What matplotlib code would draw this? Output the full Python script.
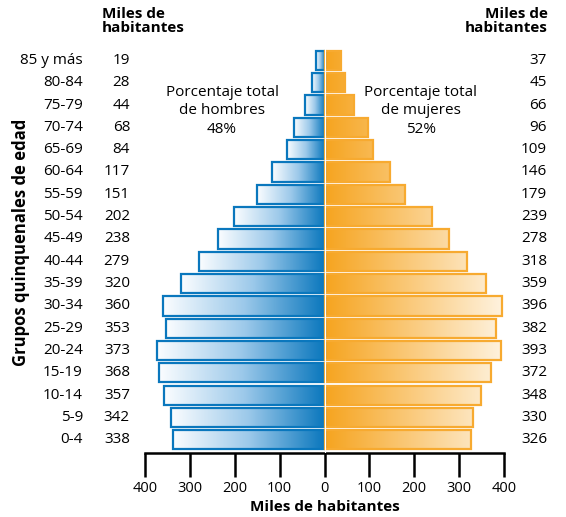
import matplotlib.pyplot as plt
import numpy as np
from matplotlib.colors import LinearSegmentedColormap, to_rgb
from matplotlib.patches import Rectangle

plt.rcParams['font.family'] = ['Open Sans', 'DejaVu Sans']

# Data (thousands of inhabitants), from youngest to oldest
ages = ['0-4', '5-9', '10-14', '15-19', '20-24', '25-29', '30-34', '35-39',
        '40-44', '45-49', '50-54', '55-59', '60-64', '65-69', '70-74',
        '75-79', '80-84', '85 y más']
men = [338, 342, 357, 368, 373, 353, 360, 320, 279, 238, 202, 151, 117,
       84, 68, 44, 28, 19]
women = [326, 330, 348, 372, 393, 382, 396, 359, 318, 278, 239, 179, 146,
         109, 96, 66, 45, 37]
ticks = [-400, -300, -200, -100, 0, 100, 200, 300, 400]

blue = '#0a77bd'
orange = '#f6a41f'
h = 0.86

fig = plt.figure(figsize=(5.66, 5.17), dpi=100)
ax = fig.add_axes([145 / 566, 1 - 453 / 517, 359 / 566, 406 / 517])
ax.set_xlim(-400, 400)
n = len(ages)
ax.set_ylim(-0.59, n - 1 + 0.6)

blue_cmap = LinearSegmentedColormap.from_list('b', ['#fbfdff', '#9cc9ea', blue])
grad = np.linspace(0, 1, 256).reshape(1, -1)

ob = np.array(to_rgb(orange))
for i, (m, w) in enumerate(zip(men, women)):
    # men: gradient from white (outer end) to blue (center), per bar
    ax.imshow(grad, cmap=blue_cmap, aspect='auto', interpolation='bilinear',
              extent=[-m, 0, i - h / 2, i + h / 2], zorder=2)
    ax.add_patch(Rectangle((-m, i - h / 2), m, h, fill=False,
                           edgecolor=blue, lw=1.6, zorder=3))
    # women: gradient fixed on the axis, orange at 0 fading toward 400
    xs = np.linspace(0, w, 256)
    t = np.clip(xs / 420, 0, 1)[:, None]
    cols = ob * (1 - t) + np.array([1.0, 0.97, 0.92]) * t
    ax.imshow(cols[None, :, :], aspect='auto', interpolation='bilinear',
              extent=[0, w, i - h / 2, i + h / 2], zorder=2)
    ax.add_patch(Rectangle((0, i - h / 2), w, h, fill=False,
                           edgecolor='#f7aa30', lw=1.6, zorder=3))

ax.axvline(0, color='white', lw=0.8, zorder=4)

for s in ['top', 'left', 'right']:
    ax.spines[s].set_visible(False)
ax.spines['bottom'].set_linewidth(1.8)
ax.set_yticks([])
ax.set_xticks(ticks)
ax.set_xticklabels([str(abs(t)) for t in ticks], fontsize=10.5)
ax.tick_params(axis='x', length=17, width=1.8, pad=3, direction='out')
ax.set_xlabel('Miles de habitantes', fontsize=11, fontweight='bold', labelpad=3)

# Side columns
for i, (a, m, w) in enumerate(zip(ages, men, women)):
    ax.annotate(a, xy=(0, i), xycoords=('figure fraction', 'data'),
                xytext=(83, 0), textcoords='offset pixels',
                ha='right', va='center', fontsize=11)
    ax.annotate(str(m), xy=(0, i), xycoords=('figure fraction', 'data'),
                xytext=(130, 0), textcoords='offset pixels',
                ha='right', va='center', fontsize=11)
    ax.annotate(str(w), xy=(0, i), xycoords=('figure fraction', 'data'),
                xytext=(547, 0), textcoords='offset pixels',
                ha='right', va='center', fontsize=11)

fig.text(102 / 566, 1 - 7 / 517, 'Miles de\nhabitantes', ha='left', va='top',
         fontsize=11, fontweight='bold', linespacing=1.0)
fig.text(548 / 566, 1 - 7 / 517, 'Miles de\nhabitantes', ha='right', va='top',
         fontsize=11, fontweight='bold', linespacing=1.0)
fig.text(21 / 566, 1 - 242 / 517, 'Grupos quinquenales de edad', rotation=90,
         ha='center', va='center', fontsize=12, fontweight='bold')

fig.text(222 / 566, 1 - 111 / 517, 'Porcentaje total\nde hombres\n48%',
         ha='center', va='center', fontsize=11, linespacing=1.35)
fig.text(421 / 566, 1 - 111 / 517, 'Porcentaje total\nde mujeres\n52%',
         ha='center', va='center', fontsize=11, linespacing=1.35)

fig.savefig('out.png', dpi=100)
